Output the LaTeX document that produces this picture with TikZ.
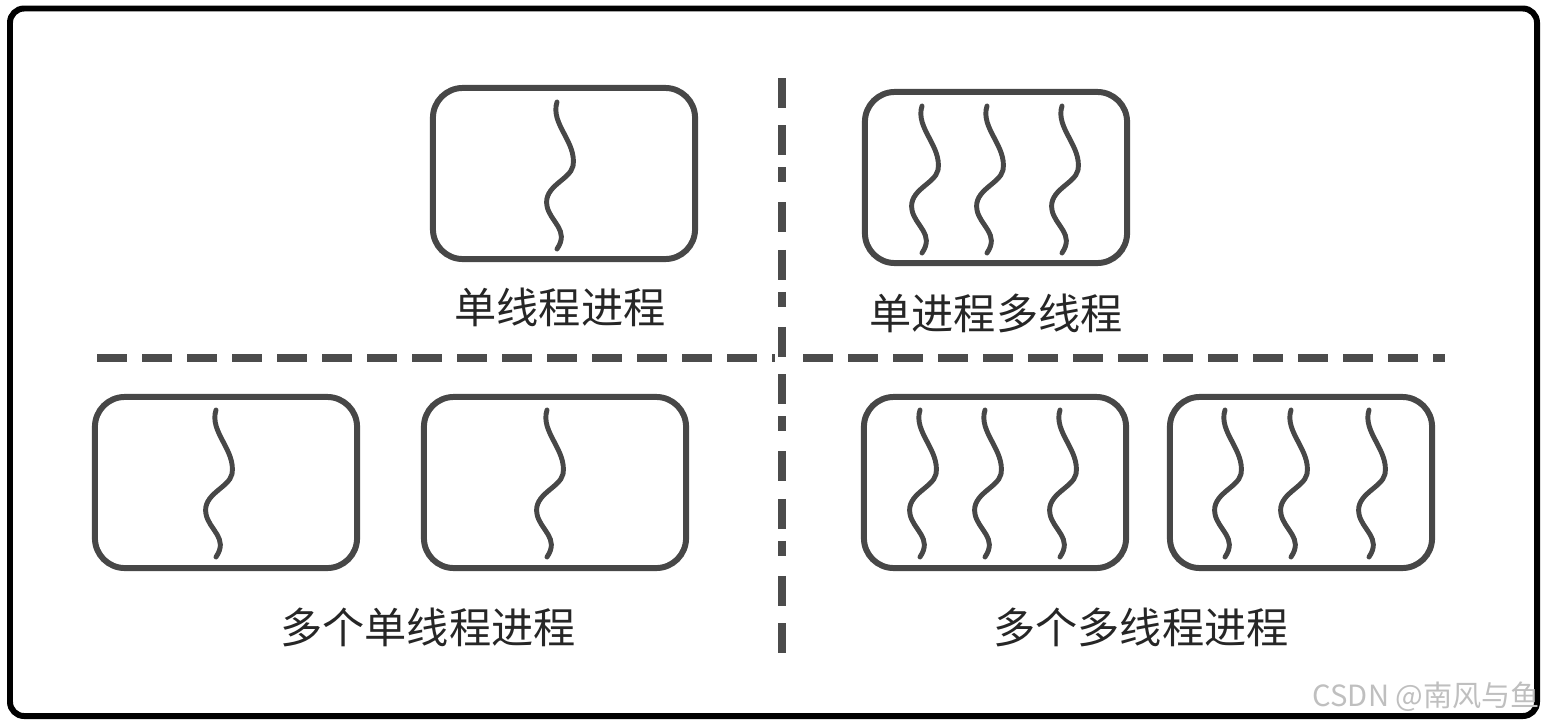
\documentclass[tikz,border=0pt]{standalone}
\usepackage{fontspec}
\setmainfont{Noto Sans CJK SC}
\usetikzlibrary{positioning}

\tikzset{
    proc/.style={draw=black!72, line width=1.7pt, rounded corners=8.5pt, minimum width=2.62cm, minimum height=1.71cm, inner sep=0pt},
    caption/.style={text=black!85, font=\fontsize{12}{14}\selectfont},
    threadline/.style={draw=black!72, line width=1.4pt, line cap=round},
    thread/.pic={
        \draw[threadline] (0,0) .. controls (-7,22) and (20,40) .. (16,64)
            .. controls (13,78) and (-14,84) .. (-10,104)
            .. controls (-7,120) and (13,128) .. (0,147);
    }
}

\begin{document}
\begin{tikzpicture}[x=0.01cm, y=-0.01cm]
    \useasboundingbox (0,0) rectangle (1545,727);
    % outer frame
    \draw[line width=1.7pt, rounded corners=4pt] (10,8.5) rectangle (1537,716);

    % top row
    \node[proc] (single) at (564,173.5) {};
    \pic at (557,102) {thread};
    \node[caption] (lsingle) at (560,307) {单线程进程};

    \node[proc] (multi) at (996,177.5) {};
    \foreach \x in {922,987,1062} \pic at (\x,106) {thread};
    \node[caption] (lmulti) at (996,313) {单进程多线程};

    % bottom row
    \node[proc] (singleA) at (226,482.5) {};
    \node[proc] (singleB) at (555,482.5) {};
    \pic at (216,410) {thread};
    \pic at (547,410) {thread};
    \node[caption] (lsingles) at (428,627) {多个单线程进程};

    \node[proc] (multiA) at (995,482.5) {};
    \node[proc] (multiB) at (1301,482.5) {};
    \foreach \x in {920,985,1060,1225,1291,1369} \pic at (\x,410) {thread};
    \node[caption] (lmultis) at (1141,627) {多个多线程进程};

    % separators
    \draw[black!70, line width=2pt, dash pattern=on 8.5pt off 5pt on 8.5pt off 3.4pt on 4.3pt off 5.7pt] (782,78) -- (782,655);
    \draw[black!70, line width=2.3pt, dash pattern=on 8.5pt off 4.3pt] (97,358) -- (775,358);
    \draw[black!70, line width=2.3pt, dash pattern=on 8.5pt off 4.3pt] (803,358) -- (1445,358);

    % watermark
    \node[anchor=west, text=black!25, font=\fontsize{8.3}{10}\selectfont, inner sep=0pt] (mark) at (1312,697) {CSDN @南风与鱼};
\end{tikzpicture}
\end{document}
